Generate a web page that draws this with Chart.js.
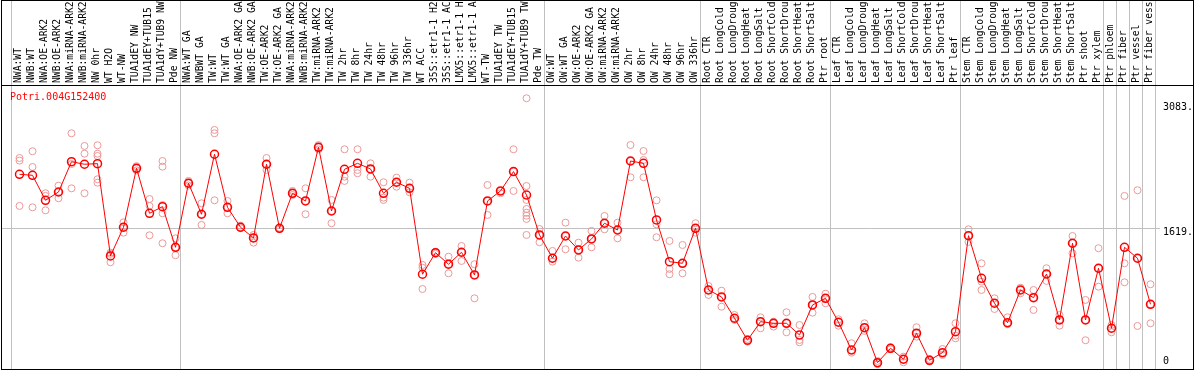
<!DOCTYPE html>
<html>
<head>
<meta charset="utf-8">
<script src="https://cdn.jsdelivr.net/npm/chart.js@4.4.0/dist/chart.umd.min.js"></script>
<style>
body{margin:0;background:#fff;}
#wrap{width:1194px;height:370px;position:relative;}
</style>
</head>
<body>
<div id="wrap"><canvas id="efp"></canvas></div>
<script>
var geneId="Potri.004G152400";

var labels=["NWA:WT","NWB:WT","NWA:OE-ARK2","NWB:OE-ARK2","NWA:miRNA-ARK2","NWB:miRNA-ARK2","NW 0hr","WT H2O","WT-NW","TUA1dEY NW",
"TUA1dEY+TUB15 ","TUA1dY+TUB9 NW","Pde NW","NWA:WT GA","NWBWT GA","TW:WT","TW:WT GA","NWA:OE-ARK2 GA","NWB:OE-ARK2 GA","TW:OE-ARK2",
"TW:OE-ARK2 GA","NWA:miRNA-ARK2","NWB:miRNA-ARK2","TW:miRNA-ARK2","TW:miRNA-ARK2","TW 2hr","TW 8hr","TW 24hr","TW 48hr","TW 96hr",
"TW 336hr","WT ACC","35S::etr1-1 H2","35S::etr1-1 AC","LMX5::etr1-1 H","LMX5::etr1-1 A","WT-TW","TUA1dEY TW","TUA1dEY+TUB15 ","TUA1dY+TUB9 TW",
"Pde TW","OW:WT","OW:WT GA","OW:OE-ARK2","OW:OE-ARK2 GA","OW:miRNA-ARK2","OW:miRNA-ARK2","OW 2hr","OW 8hr","OW 24hr",
"OW 48hr","OW 96hr","OW 336hr","Root CTR","Root LongCold","Root LongDroug","Root LongHeat","Root LongSalt","Root ShortCold","Root ShortDrou",
"Root ShortHeat","Root ShortSalt","Ptr root","Leaf CTR","Leaf LongCold","Leaf LongDroug","Leaf LongHeat","Leaf LongSalt","Leaf ShortCold","Leaf ShortDrou",
"Leaf ShortHeat","Leaf ShortSalt","Ptr leaf","Stem CTR","Stem LongCold","Stem LongDroug","Stem LongHeat","Stem LongSalt","Stem ShortCold","Stem ShortDrou",
"Stem ShortHeat","Stem ShortSalt","Ptr shoot","Ptr xylem","Ptr phloem","Ptr fiber","Ptr vessel","Ptr fiber vess"];

var means=[2250,2238,1946,2043,2397,2367,2374,1296,1631,2320,
1794,1872,1397,2145,1783,2484,1864,1631,1506,2367,
1619,2028,1938,2565,1821,2308,2378,2312,2028,2157,
2086,1082,1334,1199,1339,1074,1938,2055,2281,2008,
1541,1269,1529,1366,1494,1678,1599,2405,2378,1716,
1229,1210,1619,898,817,568,311,528,509,509,
373,723,801,521,197,458,49,217,89,393,
77,166,411,1533,1035,743,516,898,808,1085,
548,1444,548,1152,451,1397,1269,731];

var reps=[[2440,2410,1880],[2519,2335,1864],[2028,1997,1829],[2117,2043,1970],[2729,2370,2086],
[2581,2491,2028],[2589,2491,2464,2192,2152],[1334,1320,1222],[1689,1631,1568],[2345,2320,2295],
[1961,1880,1537],[2405,2339,1891,1794,1444],[1502,1397,1304],[2172,2145,2118],[1911,1783,1658],
[2768,2729,1946],[1938,1864,1794],[1650,1631,1619],[1541,1506,1451],[2440,2367,2300],
[1626,1619,1610],[2055,2028,2008],[2086,1938,1783],[2592,2565,2540],[1950,1821,1678],
[2542,2222,2172],[2542,2300,2262],[2378,2312,2222],[2157,1977,1950],[2211,2157,2105],
[2152,2086,2040],[1190,1159,910],[1345,1334,1320],[1287,1199,1093],[1412,1339,1237],
[1199,1074,801],[2125,1938,1775],[2055,2028],[2542,2281,2055],[3138,2113,1950,1845,1801,1766,1728,1541],
[1611,1541,1456],[1354,1269,1229],[1685,1529,1374],[1451,1366,1276],[1588,1494,1397],
[1763,1678,1607],[1685,1599,1502],[2592,2405,2215],[2522,2417,2215],[1946,1666,1514],
[1471,1144,1082],[1424,1210,1093],[1678,1619,1568],[945,898,840],[890,817,703],
[606,568,548],[326,311,294],[579,528,451],[528,509,470],[638,509,404],
[489,314,287],[817,723,633],[855,801,743],[556,521,481],[276,197,166],
[509,458,420],[69,49,30],[229,217,205],[119,89,54],[463,393,353],
[92,77,62],[209,166,139],[509,365,334],[1607,1533,1460],[1210,995,898],
[801,743,676],[579,516,498],[925,898,860],[898,808,665],[1152,1085,1004],
[606,548,481],[1529,1444,1327],[782,548,311],[1386,1152,937],[489,451,404],
[1997,1210,988],[2063,1269,478],[965,731,509]];

var yTicks=[0,1619,3083];
var groupStarts=[0,13,41,53,63,73,84,85,86,87,88];

var mono="'DejaVu Sans Mono', monospace";

// one dataset per replicate slot, null where a sample has fewer replicates
var maxReps=0;
for(var i=0;i<reps.length;i++){ if(reps[i].length>maxReps) maxReps=reps[i].length; }
var repSets=[];
for(var s=0;s<maxReps;s++){
  var d=[];
  for(var i=0;i<reps.length;i++){ d.push(s<reps[i].length?reps[i][s]:null); }
  repSets.push({
    label:'rep'+(s+1),
    data:d,
    showLine:false,
    pointStyle:'circle',
    pointRadius:3.5,
    pointBorderWidth:1,
    pointBorderColor:'#ec9a9a',
    pointBackgroundColor:'rgba(0,0,0,0)',
    order:2
  });
}

var efpFrame={
  id:'efpFrame',
  beforeDraw:function(chart){
    var ctx=chart.ctx, xs=chart.scales.x, ys=chart.scales.y;
    ctx.save();
    ctx.fillStyle='#fff';
    ctx.fillRect(0,0,chart.width,chart.height);
    ctx.strokeStyle='#c0c0c0';
    ctx.lineWidth=1;
    ctx.beginPath();
    for(var i=0;i<groupStarts.length;i++){
      var x=Math.round(xs.getPixelForValue(groupStarts[i])-9)+0.5;
      ctx.moveTo(x,0);
      ctx.lineTo(x,chart.height);
    }
    var gy=Math.round(ys.getPixelForValue(1619))+0.5;
    ctx.moveTo(2,gy);
    ctx.lineTo(1160,gy);
    ctx.stroke();
    ctx.restore();
  },
  afterDraw:function(chart){
    var ctx=chart.ctx;
    ctx.save();
    ctx.strokeStyle='#000';
    ctx.lineWidth=1;
    ctx.strokeRect(1.5,0.5,1192,369);
    ctx.beginPath();
    ctx.moveTo(1,85.5);
    ctx.lineTo(1193,85.5);
    ctx.stroke();
    ctx.fillStyle='#ff0000';
    ctx.font='10px '+mono;
    ctx.textBaseline='middle';
    ctx.fillText(geneId,10,97);
    ctx.restore();
  }
};

new Chart(document.getElementById('efp'),{
  type:'line',
  data:{
    labels:labels,
    datasets:[{
      label:'mean',
      data:means,
      borderColor:'#ff0000',
      borderWidth:1,
      tension:0,
      pointStyle:'circle',
      pointRadius:4,
      pointBorderWidth:1.5,
      pointBorderColor:'#ff0000',
      pointBackgroundColor:'rgba(0,0,0,0)',
      order:1
    }].concat(repSets)
  },
  options:{
    responsive:true,
    maintainAspectRatio:false,
    animation:false,
    layout:{autoPadding:false,padding:{left:13,right:0,top:0,bottom:1}},
    plugins:{legend:{display:false},tooltip:{enabled:false}},
    scales:{
      x:{
        position:'top',
        offset:true,
        grid:{display:false,drawTicks:false},
        border:{display:false},
        ticks:{autoSkip:false,maxRotation:90,minRotation:90,padding:2,labelOffset:11,color:'#000',font:{family:mono,size:9.7}},
        afterFit:function(s){s.height=85;s.paddingLeft=0;s.paddingRight=0;}
      },
      y:{
        position:'right',
        min:-25,
        max:3293,
        grid:{display:false,drawTicks:false},
        border:{display:false},
        afterBuildTicks:function(s){s.ticks=yTicks.map(function(v){return {value:v};});},
        afterFit:function(s){s.width=37;s.paddingTop=0;s.paddingBottom=0;},
        ticks:{
          padding:6,
          labelOffset:4,
          color:'#000',
          font:function(c){
            return {family:mono,size:10,lineHeight:(c.tick && c.tick.value===0)?1.88:1.2};
          },
          callback:function(v){return v===0?['0','']:v+'.';}
        }
      }
    }
  },
  plugins:[efpFrame]
});
</script>
</body>
</html>
